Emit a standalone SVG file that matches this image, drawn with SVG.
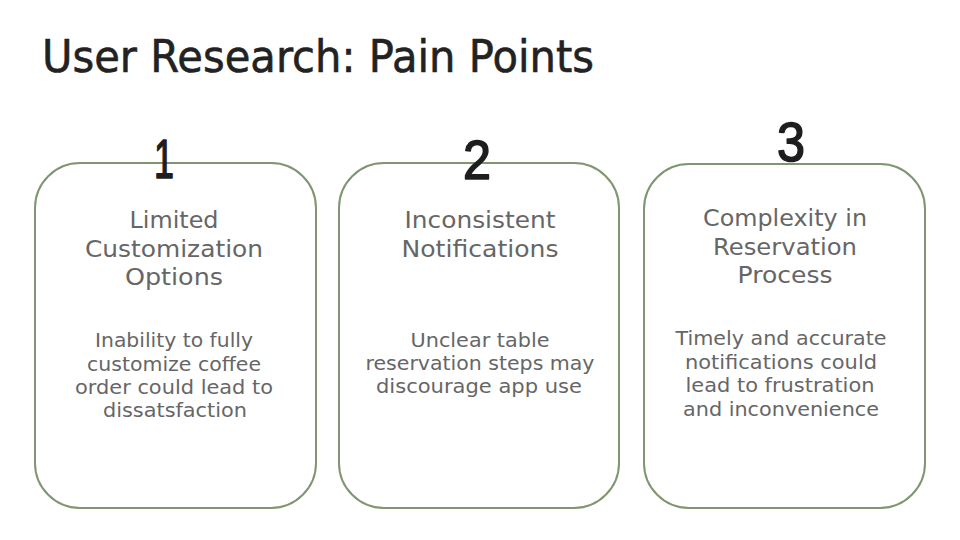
<svg xmlns="http://www.w3.org/2000/svg" width="960" height="540" viewBox="0 0 960 540">
<style>
.box{fill:#ffffff;stroke:#7f9770;stroke-width:2}
.title{font-family:"DejaVu Sans","Liberation Sans",sans-serif;font-size:44px;fill:#222222;stroke:#222222;stroke-width:0.6}
.num{font-family:"Liberation Sans","DejaVu Sans",sans-serif;font-size:55px;fill:#1e1e1e;stroke:#1e1e1e;stroke-width:1.6;stroke-linejoin:round;text-anchor:middle}
.head{font-family:"DejaVu Sans","Liberation Sans",sans-serif;font-size:22.5px;fill:#666666;text-anchor:middle}
.body{font-family:"DejaVu Sans","Liberation Sans",sans-serif;font-size:19.5px;fill:#666666;text-anchor:middle}
</style>
<rect width="960" height="540" fill="#ffffff"/>
<text class="title" x="42" y="72" textLength="552" lengthAdjust="spacingAndGlyphs">User Research: Pain Points</text>

<g id="node1">
<rect class="box" x="35" y="163" width="281" height="345" rx="45" ry="45"/>
<text class="num" x="164" y="178" textLength="20" lengthAdjust="spacingAndGlyphs">1</text>
<text class="head" x="174" y="228" textLength="89" lengthAdjust="spacingAndGlyphs">Limited</text>
<text class="head" x="174" y="257" textLength="178" lengthAdjust="spacingAndGlyphs">Customization</text>
<text class="head" x="174" y="285" textLength="98" lengthAdjust="spacingAndGlyphs">Options</text>
<text class="body" x="174" y="347" textLength="158" lengthAdjust="spacingAndGlyphs">Inability to fully</text>
<text class="body" x="174" y="371" textLength="174" lengthAdjust="spacingAndGlyphs">customize coffee</text>
<text class="body" x="174" y="394" textLength="198" lengthAdjust="spacingAndGlyphs">order could lead to</text>
<text class="body" x="175" y="417" textLength="144" lengthAdjust="spacingAndGlyphs">dissatsfaction</text>
</g>

<g id="node2">
<rect class="box" x="339" y="163" width="280" height="345" rx="45" ry="45"/>
<text class="num" x="477" y="179" textLength="28" lengthAdjust="spacingAndGlyphs">2</text>
<text class="head" x="480" y="228" textLength="151" lengthAdjust="spacingAndGlyphs">Inconsistent</text>
<text class="head" x="480" y="257" textLength="157" lengthAdjust="spacingAndGlyphs">Notifications</text>
<text class="body" x="480" y="347" textLength="139" lengthAdjust="spacingAndGlyphs">Unclear table</text>
<text class="body" x="480" y="370" textLength="229" lengthAdjust="spacingAndGlyphs">reservation steps may</text>
<text class="body" x="479" y="393" textLength="206" lengthAdjust="spacingAndGlyphs">discourage app use</text>
</g>

<g id="node3">
<rect class="box" x="644" y="164" width="281" height="344" rx="45" ry="45"/>
<text class="num" x="791" y="161" textLength="28" lengthAdjust="spacingAndGlyphs">3</text>
<text class="head" x="785" y="226" textLength="164" lengthAdjust="spacingAndGlyphs">Complexity in</text>
<text class="head" x="785" y="255" textLength="144" lengthAdjust="spacingAndGlyphs">Reservation</text>
<text class="head" x="785" y="283" textLength="95" lengthAdjust="spacingAndGlyphs">Process</text>
<text class="body" x="781" y="345" textLength="211" lengthAdjust="spacingAndGlyphs">Timely and accurate</text>
<text class="body" x="781" y="369" textLength="192" lengthAdjust="spacingAndGlyphs">notifications could</text>
<text class="body" x="780" y="392" textLength="189" lengthAdjust="spacingAndGlyphs">lead to frustration</text>
<text class="body" x="781" y="416" textLength="196" lengthAdjust="spacingAndGlyphs">and inconvenience</text>
</g>

<g id="connectors"></g>
</svg>
